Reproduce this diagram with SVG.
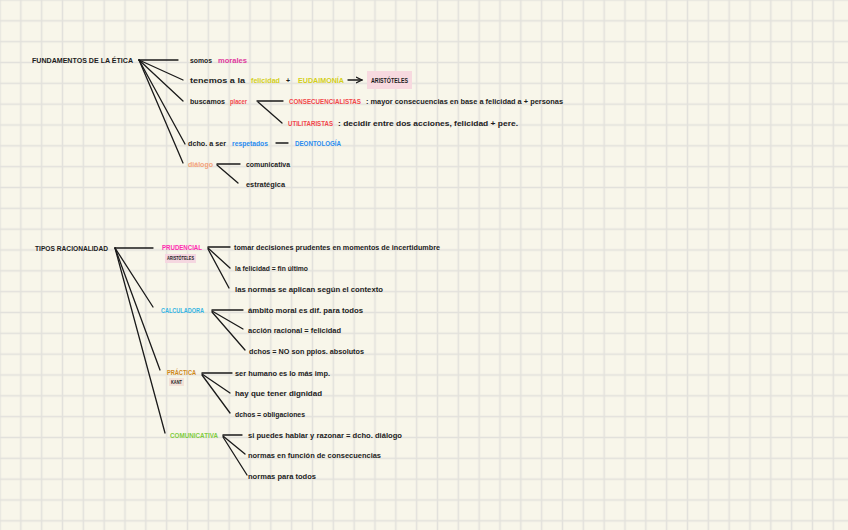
<svg xmlns="http://www.w3.org/2000/svg" width="848" height="530" viewBox="0 0 848 530">
<defs>
<pattern id="grid" patternUnits="userSpaceOnUse" width="20.833" height="20.833" x="-10.4165" y="-10.4165">
<rect width="20.833" height="20.833" fill="#f8f6ea"/>
<path d="M10.4165 0V20.833M0 10.4165H20.833" stroke="#e2e1dc" stroke-width="1.5" fill="none"/>
</pattern>
<marker id="arr" markerWidth="8" markerHeight="8" refX="6" refY="4" orient="auto" markerUnits="userSpaceOnUse">
<path d="M0,1 L6,4 L0,7" fill="none" stroke="#1a1a1a" stroke-width="1.2"/>
</marker>
<style>
text{font-family:"Liberation Sans",Arial,sans-serif;font-size:7.5px;font-weight:bold;fill:#1c1c1c;dominant-baseline:central;}
.t{font-size:7px;}
.mag{fill:#e0399e;}
.pink{fill:#ff2bb0;}
.yel{fill:#d3cf1a;}
.red{fill:#f2474a;}
.blue{fill:#2a8cf0;}
.ora{fill:#f3a27a;}
.cya{fill:#35b5e3;}
.bro{fill:#cf8719;}
.grn{fill:#7fcc3e;}
.sm{font-size:4.6px;}
.c line,.c path{stroke:#1a1a1a;stroke-width:1.3;fill:none;stroke-linecap:round;}
</style>
</defs>
<rect width="848" height="530" fill="url(#grid)"/>

<g id="connectors" class="c">
<line x1="139" y1="60" x2="178" y2="60"/>
<line x1="139" y1="60" x2="183" y2="80"/>
<line x1="139" y1="60" x2="183" y2="101"/>
<line x1="139" y1="60" x2="185" y2="144"/>
<line x1="139" y1="60" x2="183" y2="163"/>
<line x1="348" y1="80" x2="362" y2="80" marker-end="url(#arr)"/>
<line x1="257" y1="101" x2="283" y2="101"/>
<line x1="258" y1="102" x2="282" y2="123"/>
<line x1="276" y1="143" x2="288" y2="143"/>
<line x1="217" y1="164" x2="240" y2="164"/>
<line x1="217" y1="165" x2="238" y2="183"/>
<line x1="115" y1="248" x2="153" y2="248"/>
<line x1="115" y1="248" x2="153" y2="307"/>
<line x1="115" y1="248" x2="160" y2="370"/>
<line x1="115" y1="248" x2="165" y2="433"/>
<line x1="208" y1="247" x2="230" y2="247"/>
<line x1="208" y1="248" x2="230" y2="268"/>
<line x1="208" y1="249" x2="229" y2="288"/>
<line x1="212" y1="310" x2="243" y2="310"/>
<line x1="212" y1="311" x2="243" y2="329"/>
<line x1="212" y1="312" x2="245" y2="350"/>
<line x1="202" y1="373" x2="232" y2="373"/>
<line x1="202" y1="374" x2="230" y2="393"/>
<line x1="202" y1="375" x2="230" y2="413"/>
<line x1="223" y1="435" x2="242" y2="435"/>
<line x1="223" y1="436" x2="245" y2="454"/>
<line x1="223" y1="437" x2="247" y2="475"/>
</g>

<g id="fundamentos"><text x="32" y="60" textLength="101" lengthAdjust="spacingAndGlyphs">FUNDAMENTOS DE LA ÉTICA</text></g>
<g id="somos"><text class="t" x="190" y="60" textLength="22" lengthAdjust="spacingAndGlyphs">somos</text><text class="t mag" x="218" y="60" textLength="29" lengthAdjust="spacingAndGlyphs">morales</text></g>
<g id="tenemos"><text class="t" x="190" y="80" textLength="55" lengthAdjust="spacingAndGlyphs">tenemos a la</text><text class="t yel" x="251" y="80" textLength="29" lengthAdjust="spacingAndGlyphs">felicidad</text><text class="t" x="286" y="80">+</text><text class="t yel" x="298" y="80" textLength="46" lengthAdjust="spacingAndGlyphs">EUDAIMONÍA</text></g>
<g id="aristoteles1"><rect x="367" y="71" width="45" height="18" fill="#f7d9df"/><text class="t" x="371" y="80" textLength="37" lengthAdjust="spacingAndGlyphs">ARISTÓTELES</text></g>
<g id="buscamos"><text class="t" x="190" y="101" textLength="35" lengthAdjust="spacingAndGlyphs">buscamos</text><text class="t red" x="230" y="101" textLength="17" lengthAdjust="spacingAndGlyphs">placer</text></g>
<g id="consecuencialistas"><text class="t red" x="289" y="101" textLength="72" lengthAdjust="spacingAndGlyphs">CONSECUENCIALISTAS</text><text class="t" x="366" y="101" textLength="197" lengthAdjust="spacingAndGlyphs">:  mayor consecuencias en base a felicidad a + personas</text></g>
<g id="utilitaristas"><text class="t red" x="288" y="123" textLength="45" lengthAdjust="spacingAndGlyphs">UTILITARISTAS</text><text class="t" x="338" y="123" textLength="180" lengthAdjust="spacingAndGlyphs">:   decidir entre dos acciones, felicidad + pere.</text></g>
<g id="dcho"><text class="t" x="188" y="143" textLength="38" lengthAdjust="spacingAndGlyphs">dcho. a ser</text><text class="t blue" x="232" y="143" textLength="36" lengthAdjust="spacingAndGlyphs">respetados</text></g>
<g id="deontologia"><text class="t blue" x="295" y="143" textLength="46" lengthAdjust="spacingAndGlyphs">DEONTOLOGÍA</text></g>
<g id="dialogo"><text class="t ora" x="188" y="164" textLength="25" lengthAdjust="spacingAndGlyphs">diálogo</text></g>
<g id="comunicativa1"><text class="t" x="246" y="164" textLength="44" lengthAdjust="spacingAndGlyphs">comunicativa</text></g>
<g id="estrategica"><text class="t" x="246" y="184" textLength="39" lengthAdjust="spacingAndGlyphs">estratégica</text></g>

<g id="tipos"><text x="35" y="248" textLength="73" lengthAdjust="spacingAndGlyphs">TIPOS RACIONALIDAD</text></g>
<g id="prudencial"><text class="t pink" x="162" y="247" textLength="40" lengthAdjust="spacingAndGlyphs">PRUDENCIAL</text><rect x="165" y="254" width="31" height="9" fill="#f5d7e0"/><text class="sm" x="167" y="258.5" textLength="27" lengthAdjust="spacingAndGlyphs">ARISTÓTELES</text></g>
<g id="p1"><text class="t" x="234" y="247" textLength="206" lengthAdjust="spacingAndGlyphs">tomar decisiones prudentes en momentos de incertidumbre</text></g>
<g id="p2"><text class="t" x="235" y="268" textLength="73" lengthAdjust="spacingAndGlyphs">la felicidad = fin último</text></g>
<g id="p3"><text class="t" x="235" y="289" textLength="148" lengthAdjust="spacingAndGlyphs">las normas se aplican según el contexto</text></g>
<g id="calculadora"><text class="t cya" x="161" y="310" textLength="43" lengthAdjust="spacingAndGlyphs">CALCULADORA</text></g>
<g id="c1"><text class="t" x="248" y="310" textLength="115" lengthAdjust="spacingAndGlyphs">ámbito moral es dif. para todos</text></g>
<g id="c2"><text class="t" x="248" y="330" textLength="93" lengthAdjust="spacingAndGlyphs">acción racional = felicidad</text></g>
<g id="c3"><text class="t" x="249" y="351" textLength="115" lengthAdjust="spacingAndGlyphs">dchos = NO son ppios. absolutos</text></g>
<g id="practica"><text class="t bro" x="167" y="372" textLength="29" lengthAdjust="spacingAndGlyphs">PRÁCTICA</text><rect x="169" y="378" width="15" height="8" fill="#f3e2d8"/><text class="sm" x="171" y="382" textLength="11" lengthAdjust="spacingAndGlyphs">KANT</text></g>
<g id="pr1"><text class="t" x="235" y="373" textLength="95" lengthAdjust="spacingAndGlyphs">ser humano es lo más imp.</text></g>
<g id="pr2"><text class="t" x="235" y="393" textLength="87" lengthAdjust="spacingAndGlyphs">hay que tener dignidad</text></g>
<g id="pr3"><text class="t" x="235" y="414" textLength="70" lengthAdjust="spacingAndGlyphs">dchos = obligaciones</text></g>
<g id="comunicativa"><text class="t grn" x="170" y="435" textLength="48" lengthAdjust="spacingAndGlyphs">COMUNICATIVA</text></g>
<g id="co1"><text class="t" x="248" y="435" textLength="154" lengthAdjust="spacingAndGlyphs">si puedes hablar y razonar = dcho. diálogo</text></g>
<g id="co2"><text class="t" x="248" y="455" textLength="133" lengthAdjust="spacingAndGlyphs">normas en función de consecuencias</text></g>
<g id="co3"><text class="t" x="248" y="476" textLength="68" lengthAdjust="spacingAndGlyphs">normas para todos</text></g>
</svg>
